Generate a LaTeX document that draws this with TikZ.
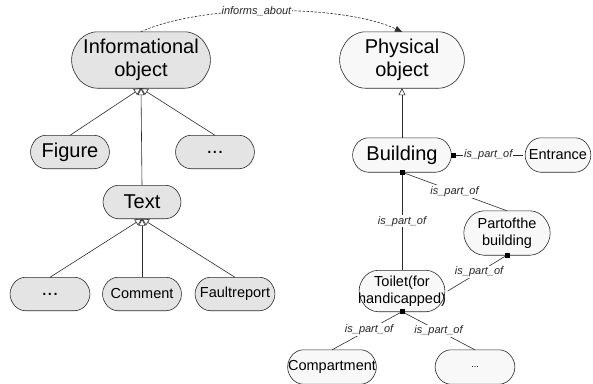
\documentclass[tikz,border=0pt]{standalone}
\usepackage{fontspec}
\setmainfont{Liberation Sans}
\usetikzlibrary{arrows.meta,calc,backgrounds}
\definecolor{gfill}{HTML}{E4E4E4}
\definecolor{wfill}{HTML}{F8F8F8}
\definecolor{edge}{HTML}{2A2A2A}
\tikzset{
  pilltext/.style={inner sep=0pt, align=center, text=black},
  pillshape/.style={draw=edge, line width=0.6pt},
  bigfont/.style={font=\fontsize{20}{23}\selectfont},
  midfont/.style={font=\fontsize{14.5}{17}\selectfont},
  smallfont/.style={font=\fontsize{9}{11}\selectfont},
  lab/.style={font=\fontsize{11}{13}\selectfont\itshape, fill=white, inner sep=1pt, text=black!85},
  gen/.style={draw=edge, line width=0.6pt, -{Triangle[open, length=7pt, width=7pt]}},
  po/.style={draw=edge, line width=0.6pt},
  informs/.style={draw=edge, line width=0.6pt, dash pattern=on 2.5pt off 1.5pt, -{Triangle[length=7pt, width=6pt]}},
  sqmark/.style={fill=black}
}
\newcommand\pillnode[7]{%
  \node[pilltext,#2,minimum width=#5pt,minimum height=#6pt] (#3) at #4 {#7};
  \pgfmathsetlengthmacro\pillc{0.28*#6pt}%
  \pgfmathsetlengthmacro\pillr{0.24*#6pt}%
  \begin{scope}[on background layer]
    \path[pillshape,fill=#1,rounded corners=\pillr] (#3.north)
      -- ($(#3.north east)+(-\pillc,0)$) -- (#3.east)
      -- ($(#3.south east)+(-\pillc,0)$) -- ($(#3.south west)+(\pillc,0)$)
      -- (#3.west) -- ($(#3.north west)+(\pillc,0)$) -- cycle;
  \end{scope}}
\begin{document}
\begin{tikzpicture}[x=1pt,y=-1pt]
\useasboundingbox (0,0) rectangle (593,383);
% left tree
\pillnode{gfill}{bigfont}{info}{(141,60)}{146}{56}{Informational\\object}
\pillnode{gfill}{bigfont}{fig}{(70,152)}{83}{33}{Figure}
\pillnode{gfill}{bigfont}{dotsa}{(215,152)}{83}{33}{...}
\pillnode{gfill}{bigfont}{text}{(142,202)}{82}{33}{Text}
\pillnode{gfill}{bigfont}{dotsb}{(50,294)}{84}{33}{...}
\pillnode{gfill}{midfont}{comment}{(142,294)}{83}{33}{Comment}
\pillnode{gfill}{midfont}{fault}{(235,294)}{84}{33}{Faultreport}
% right tree
\pillnode{wfill}{bigfont}{phys}{(402,60)}{132}{56}{Physical\\object}
\pillnode{wfill}{bigfont}{bldg}{(402,155)}{103}{34}{Building}
\pillnode{wfill}{midfont}{entr}{(558,155)}{70}{34}{Entrance}
\pillnode{wfill}{midfont}{part}{(507,233)}{92}{44}{Partofthe\\building}
\pillnode{wfill}{midfont}{toilet}{(402,291)}{91}{41}{Toilet(for\\handicapped)}
\pillnode{wfill}{midfont}{comp}{(332,367)}{93}{34}{Compartment}
\pillnode{wfill}{smallfont}{dotsc}{(475,367)}{84}{34}{...}
% generalisation
\draw[gen] (fig.north) -- (info.south);
\draw[gen] (text.north) -- (info.south);
\draw[gen] (dotsa.north) -- (info.south);
\draw[gen] (dotsb.north) -- (text.south);
\draw[gen] (comment.north) -- (text.south);
\draw[gen] (fault.north) -- (text.south);
\draw[gen] (bldg.north) -- (phys.south);
% informs about
\draw[informs] (info.north) .. controls +(60pt,28pt) and +(-60pt,28pt) .. node[lab,pos=0.45]{informs\_about} (phys.north);
% part of
\draw[po] (bldg.east) -- node[lab]{is\_part\_of} (entr.west);
\draw[po] (bldg.south) -- node[lab]{is\_part\_of} (part.north);
\draw[po] (bldg.south) -- node[lab]{is\_part\_of} (toilet.north);
\draw[po] (part.south) -- node[lab,pos=0.47]{is\_part\_of} (toilet.east);
\draw[po] (toilet.south) -- node[lab,pos=0.47]{is\_part\_of} (comp.north);
\draw[po] (toilet.south) -- node[lab]{is\_part\_of} (dotsc.north);
\foreach \a in {bldg.east,bldg.south,part.south,toilet.south}
  \fill[sqmark] (\a) ++(-2.5pt,-2.5pt) rectangle ++(5pt,5pt);
\end{tikzpicture}
\end{document}
